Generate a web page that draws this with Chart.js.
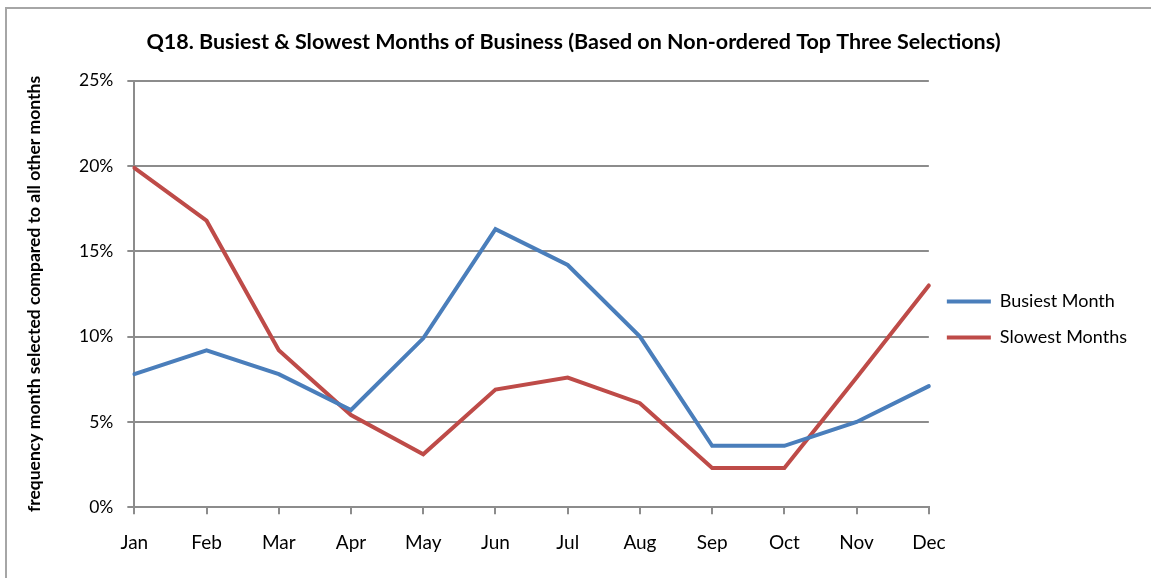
<!DOCTYPE html>
<html>
<head>
<meta charset="utf-8">
<script src="https://cdn.jsdelivr.net/npm/chart.js@4/dist/chart.umd.min.js"></script>
<style>
  html, body { margin: 0; padding: 0; background: #fff; }
  #wrap { position: relative; width: 1151px; height: 578px; overflow: hidden; }
  #frame {
    position: absolute; left: 5px; top: 7px; width: 1200px; height: 600px;
    border-left: 2px solid #a6a6a6; border-top: 2px solid #a6a6a6;
  }
  #myLineChart { position: absolute; left: 0; top: 0; }
</style>
</head>
<body>
<div id="wrap">
  <div id="frame"></div>
  <canvas id="myLineChart" width="1151" height="578"></canvas>
</div>
<script>
// months and share of times each was picked (percent)
const months = ["Jan", "Feb", "Mar", "Apr", "May", "Jun", "Jul", "Aug", "Sep", "Oct", "Nov", "Dec"];
const busiestMonth = [7.8, 9.2, 7.8, 5.7, 9.9, 16.3, 14.2, 10.0, 3.6, 3.6, 5.0, 7.1];
const slowestMonths = [19.9, 16.8, 9.2, 5.4, 3.1, 6.9, 7.6, 6.1, 2.3, 2.3, 7.6, 13.0];

const fontFamily = "Lato, 'Open Sans', sans-serif";
const gridColor = "#8c8c8c";

const ctx = document.getElementById("myLineChart").getContext("2d");

const myLineChart = new Chart(ctx, {
  type: "line",
  data: {
    labels: months,
    datasets: [
      {
        label: "Busiest Month",
        data: busiestMonth,
        borderColor: "#4a7ebb",
        backgroundColor: "#4a7ebb",
        borderWidth: 4,
        borderCapStyle: "round",
        pointRadius: 0,
        pointStyle: "line",
        tension: 0
      },
      {
        label: "Slowest Months",
        data: slowestMonths,
        borderColor: "#be4b48",
        backgroundColor: "#be4b48",
        borderWidth: 4,
        borderCapStyle: "round",
        pointRadius: 0,
        pointStyle: "line",
        tension: 0
      }
    ]
  },
  options: {
    responsive: false,
    animation: false,
    layout: {
      padding: { left: 10, right: 14, top: 0, bottom: 7 }
    },
    plugins: {
      title: {
        display: true,
        text: "Q18. Busiest & Slowest Months of Business (Based on Non-ordered Top Three Selections)",
        color: "#000",
        font: { family: fontFamily, size: 21.5, weight: "bold" },
        padding: { top: 29, bottom: 26 }
      },
      legend: {
        position: "right",
        fullSize: false,
        // empty title only used as a spacer to sit the entries a bit lower
        title: {
          display: true,
          text: "",
          font: { size: 1 },
          padding: { top: 0, bottom: 50 }
        },
        labels: {
          usePointStyle: true,
          pointStyleWidth: 44,
          color: "#000",
          font: { family: fontFamily, size: 18 },
          padding: 18
        }
      },
      tooltip: { enabled: false }
    },
    scales: {
      x: {
        offset: false,
        grid: {
          drawOnChartArea: false,
          drawTicks: true,
          tickLength: 7,
          color: gridColor,
          lineWidth: 2
        },
        border: { color: gridColor, width: 2 },
        ticks: {
          color: "#000",
          font: { family: fontFamily, size: 19 },
          padding: 17,
          maxRotation: 0
        }
      },
      y: {
        min: 0,
        max: 25,
        grid: {
          color: gridColor,
          lineWidth: 2,
          tickLength: 7
        },
        border: { color: gridColor, width: 2 },
        ticks: {
          stepSize: 5,
          color: "#000",
          font: { family: fontFamily, size: 17.5 },
          padding: 14,
          callback: (value) => value + "%"
        },
        title: {
          display: true,
          text: "frequency month selected compared to all other months",
          color: "#000",
          font: { family: fontFamily, size: 17.5, weight: "bold" },
          padding: { top: 14, bottom: 20 }
        }
      }
    }
  }
});
</script>
</body>
</html>
